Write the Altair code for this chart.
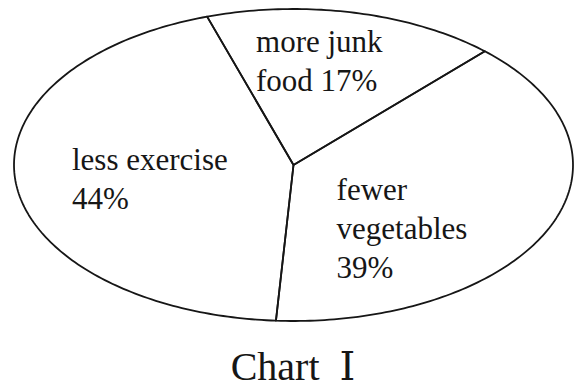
import altair as alt
import numpy as np
import pandas as pd

# ---- data ----
categories = ["more junk food", "fewer vegetables", "less exercise"]
percent = [17, 39, 44]
label_text = ["more junk\nfood 17%", "fewer\nvegetables\n39%", "less exercise\n44%"]
caption = "Chart\u00a0\u00a0Ⅰ"

# ---- layout / style ----
START_DEG = -18.0        # first slice boundary, clockwise from 12 o'clock
LABEL_R = 0.55           # label anchor radius (fraction of ellipse radius)
label_offsets = [(-71, -29), (-98, 1), (-69, -6)]   # pixel nudges (dx, dy)
INK = "#161616"
FONT = "'Liberation Serif', 'Times New Roman', 'DejaVu Serif', serif"

# slice geometry in unit-ellipse coordinates (u right, w up)
cum = np.concatenate([[0], np.cumsum(percent)])
t0 = START_DEG + 3.6 * cum[:-1]
t1 = START_DEG + 3.6 * cum[1:]

rows = []
for i, cat in enumerate(categories):
    n = int(np.ceil(t1[i] - t0[i])) + 1
    angs = np.linspace(t0[i], t1[i], n)
    pts = [(0.0, 0.0)] + [(np.sin(np.radians(a)), np.cos(np.radians(a))) for a in angs] + [(0.0, 0.0)]
    for k, (u, w) in enumerate(pts):
        rows.append({"slice": cat, "order": k, "u": u, "w": w})
outline = pd.DataFrame(rows)

mid = (t0 + t1) / 2
labels = pd.DataFrame({
    "slice": categories,
    "text": label_text,
    "u": LABEL_R * np.sin(np.radians(mid)),
    "w": LABEL_R * np.cos(np.radians(mid)),
})

W, H = 570, 330
CX, RX = 285.5, 279.5   # ellipse centre / x-radius in plot pixels
CY, RY = 157.0, 156.0   # ellipse centre / y-radius in plot pixels
xs = alt.Scale(domain=[-CX / RX, (W - CX) / RX], nice=False, zero=False)
ys = alt.Scale(domain=[(CY - H) / RY, CY / RY], nice=False, zero=False)

x_enc = alt.X("u:Q", scale=xs, axis=None)
y_enc = alt.Y("w:Q", scale=ys, axis=None)

slices = alt.Chart(outline).mark_line(color=INK, strokeWidth=1.8, strokeJoin="round").encode(
    x=x_enc, y=y_enc, detail="slice:N", order="order:Q"
)

layers = [slices]
for i, cat in enumerate(categories):
    dx, dy = label_offsets[i]
    layers.append(
        alt.Chart(labels[labels["slice"] == cat]).mark_text(
            align="left", baseline="alphabetic", font=FONT, fontSize=31,
            lineBreak="\n", lineHeight=39, color=INK, dx=dx, dy=dy
        ).encode(x=x_enc, y=y_enc, text="text:N")
    )

chart = alt.layer(*layers).properties(
    width=W, height=H,
    title=alt.TitleParams(caption, orient="bottom", font=FONT, fontSize=40,
                          fontWeight="normal", color=INK, offset=10),
    padding=0,
    autosize=alt.AutoSizeParams(type="pad"),
).configure(font=FONT).configure_view(stroke=None)

chart.save("out.html", embed_options={"renderer": "svg", "actions": False})
